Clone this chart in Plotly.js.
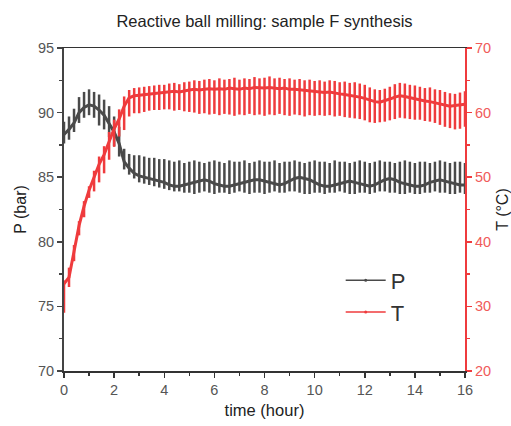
<!DOCTYPE html>
<html>
<head>
<meta charset="utf-8">
<script src="https://cdn.plot.ly/plotly-3.0.1.min.js"></script>
<style>html,body{margin:0;padding:0;background:#fff;}#chart{width:511px;height:426px;}</style>
</head>
<body>
<div id="chart"></div>
<script>
// time (hour), one entry per pressure/temperature cycle
const time = [0,0.2,0.4,0.6,0.8,1.0,1.2,1.4,1.6,1.8,2.0,2.2,2.4,2.6,2.8,3.0,3.2,3.4,3.6,3.8,4.0,
  4.2,4.4,4.6,4.8,5.0,5.2,5.4,5.6,5.8,6.0,6.2,6.4,6.6,6.8,7.0,7.2,7.4,7.6,7.8,8.0,
  8.2,8.4,8.6,8.8,9.0,9.2,9.4,9.6,9.8,10.0,10.2,10.4,10.6,10.8,11.0,11.2,11.4,11.6,11.8,12.0,
  12.2,12.4,12.6,12.8,13.0,13.2,13.4,13.6,13.8,14.0,14.2,14.4,14.6,14.8,15.0,15.2,15.4,15.6,15.8,16.0];

// Pressure P (bar): top of each swing, bottom of each swing, dense band level
const P_high = [89.3,89.7,90.3,91.2,91.6,91.8,91.6,91.4,91.0,90.5,89.7,88.9,87.2,86.8,86.7,86.7,86.6,86.5,86.5,86.4,86.4,
  86.3,86.2,86.3,86.1,86.2,86.3,86.2,86.1,86.2,86.3,
  86.2,86.1,86.3,86.2,86.2,86.3,86.1,86.2,86.3,86.2,
  86.2,86.3,86.1,86.2,86.2,86.3,86.2,86.1,86.2,86.3,
  86.2,86.2,86.1,86.3,86.2,86.2,86.1,86.2,86.3,86.2,
  86.1,86.2,86.3,86.2,86.2,86.1,86.2,86.3,86.2,86.1,
  86.2,86.2,86.1,86.2,86.3,86.2,86.1,86.2,86.2,86.1];
const P_low = [87.6,87.9,88.5,89.2,89.6,89.8,89.6,89.0,88.7,88.1,87.4,86.6,85.6,85.2,84.9,84.6,84.5,84.4,84.3,84.2,84.1,
  84.0,83.9,83.9,83.8,83.8,83.7,83.8,83.9,83.8,83.7,
  83.8,83.8,83.7,83.8,83.9,83.8,83.7,83.8,83.8,83.7,
  83.8,83.9,83.8,83.8,83.9,83.9,83.8,83.7,83.7,83.8,
  83.8,83.7,83.8,83.8,83.9,83.8,83.7,83.7,83.8,83.8,
  83.7,83.8,83.9,83.9,83.8,83.8,83.7,83.7,83.8,83.7,
  83.7,83.8,83.8,83.9,83.8,83.8,83.7,83.7,83.8,83.7];
const P_band = [88.3,88.7,89.2,90.0,90.4,90.6,90.5,90.2,89.8,89.2,88.5,87.6,86.2,85.7,85.3,85.1,85.0,84.9,84.8,84.7,84.6,
  84.4,84.3,84.3,84.4,84.5,
  84.6,84.7,84.8,84.7,84.5,84.4,84.3,84.3,84.4,
  84.5,84.6,84.7,84.8,84.8,84.7,84.6,84.5,84.4,
  84.5,84.7,84.9,85.0,84.9,84.8,84.6,84.4,84.3,
  84.3,84.4,84.5,84.6,84.7,84.6,84.5,84.4,84.3,
  84.4,84.6,84.8,84.9,84.8,84.6,84.5,84.4,84.3,
  84.3,84.4,84.6,84.7,84.8,84.7,84.6,84.5,84.4,84.4];

// Temperature T (°C): top of each swing, bottom of each swing, dense band level
const T_high = [34.0,36.0,39.5,43.2,46.3,48.6,51.0,53.2,54.8,57.0,58.9,60.5,62.5,63.5,63.8,63.9,64.0,64.1,64.2,64.3,64.3,
  64.5,64.6,64.4,64.7,64.8,65.0,64.9,65.1,65.2,65.0,
  65.3,65.1,65.2,65.4,65.1,65.3,65.2,65.5,65.3,65.4,
  65.6,65.3,65.4,65.2,65.3,65.1,65.2,65.0,65.1,64.9,
  65.0,64.8,65.0,64.9,64.7,64.8,64.6,64.7,64.5,64.3,
  63.9,63.6,63.5,63.7,64.0,64.4,64.6,64.5,64.3,64.2,
  64.0,63.8,63.9,63.6,63.5,63.2,63.0,62.9,63.1,63.3];
const T_low = [29.0,33.0,37.0,41.0,43.8,46.8,47.8,49.2,50.6,52.7,54.7,56.3,57.3,59.4,59.9,59.9,60.1,60.3,60.4,60.4,60.5,
  60.5,60.3,60.4,60.2,60.1,60.0,59.8,59.9,59.7,59.8,
  59.6,59.8,59.7,59.5,59.7,59.6,59.8,59.6,59.7,59.5,
  59.7,59.6,59.8,59.6,59.5,59.7,59.6,59.4,59.6,59.5,
  59.6,59.5,59.6,59.4,59.5,59.3,59.2,59.1,59.0,58.8,
  58.5,58.4,58.5,58.6,58.8,59.0,59.2,59.1,59.0,58.9,
  58.9,58.7,58.6,58.4,58.1,57.8,57.6,57.4,57.5,57.8];
const T_band = [33.5,34.5,38.5,42.5,45.5,48.0,50.0,52.0,53.5,55.5,57.5,59.0,61.0,62.3,62.6,62.7,62.8,62.9,63.0,63.0,63.1,
  63.2,63.3,63.2,63.4,63.5,63.6,63.5,63.6,63.7,63.6,
  63.7,63.6,63.8,63.7,63.6,63.8,63.7,63.9,63.8,63.8,
  63.9,63.8,63.7,63.8,63.6,63.6,63.5,63.4,63.4,63.3,
  63.2,63.1,63.2,63.0,62.9,62.8,62.7,62.6,62.4,62.2,
  61.9,61.7,61.6,61.8,62.1,62.4,62.6,62.5,62.3,62.2,
  62.0,61.8,61.7,61.5,61.4,61.2,61.0,61.1,61.2,61.3];

const xTicks = [0,2,4,6,8,10,12,14,16];
const pTicks = [70,75,80,85,90,95];
const tTicks = [20,30,40,50,60,70];

const P_COLOR = '#4a4a4a';
const T_COLOR = '#ef3b3d';
const FONT = 'Liberation Sans, Arial, sans-serif';

function swings(t, hi, lo) {
  const x = [], y = [];
  for (let i = 0; i < t.length; i++) {
    x.push(t[i], t[i], null);
    y.push(hi[i], lo[i], null);
  }
  return {x, y};
}
const pS = swings(time, P_high, P_low);
const tS = swings(time, T_high, T_low);

const traces = [
  {x: time, y: P_band, mode: 'lines', line: {color: P_COLOR, width: 3}, showlegend: false, hoverinfo: 'skip'},
  {x: pS.x, y: pS.y, mode: 'lines', line: {color: P_COLOR, width: 2.5}, showlegend: false, connectgaps: false},
  {x: time, y: T_band, yaxis: 'y2', mode: 'lines', line: {color: T_COLOR, width: 3}, showlegend: false, hoverinfo: 'skip'},
  {x: tS.x, y: tS.y, yaxis: 'y2', mode: 'lines', line: {color: T_COLOR, width: 2.5}, showlegend: false, connectgaps: false},
  {x: [null], y: [null], name: 'P', mode: 'lines+markers', line: {color: P_COLOR, width: 1.5}, marker: {color: P_COLOR, size: 3}},
  {x: [null], y: [null], name: 'T', yaxis: 'y2', mode: 'lines+markers', line: {color: T_COLOR, width: 1.5}, marker: {color: T_COLOR, size: 3}}
];

const layout = {
  width: 511, height: 426,
  margin: {l: 64, r: 46, t: 48, b: 55},
  paper_bgcolor: '#fff', plot_bgcolor: '#fff',
  font: {family: FONT, color: '#222'},
  title: {text: 'Reactive ball milling: sample F synthesis', font: {family: FONT, size: 16.5, color: '#222'},
          x: 0.5, xref: 'paper', y: 0.951, yanchor: 'middle'},
  xaxis: {
    range: [0, 16], tickvals: xTicks, ticktext: xTicks.map(String),
    showgrid: false, zeroline: false, showline: true, linecolor: '#333', linewidth: 1.5, mirror: true,
    ticks: 'outside', ticklen: 5, tickwidth: 1.5, tickcolor: '#333',
    minor: {dtick: 1, ticks: 'outside', ticklen: 3, tickwidth: 1.5, tickcolor: '#333', showgrid: false},
    tickfont: {family: FONT, size: 14.5, color: '#555'},
    title: {text: 'time (hour)', font: {family: FONT, size: 16.5, color: '#222'}, standoff: 7}
  },
  yaxis: {
    range: [70, 95], tickvals: pTicks, ticktext: pTicks.map(String),
    showgrid: false, zeroline: false, showline: true, linecolor: '#444', linewidth: 2,
    ticks: 'outside', ticklen: 5, tickwidth: 1.5, tickcolor: '#444',
    minor: {dtick: 2.5, ticks: 'outside', ticklen: 3, tickwidth: 1.5, tickcolor: '#444', showgrid: false},
    tickfont: {family: FONT, size: 14.5, color: '#555'},
    title: {text: 'P (bar)', font: {family: FONT, size: 16, color: '#222'}, standoff: 7}
  },
  yaxis2: {
    range: [20, 70], tickvals: tTicks, ticktext: tTicks.map(String),
    overlaying: 'y', side: 'right', anchor: 'x',
    showgrid: false, zeroline: false, showline: true, linecolor: T_COLOR, linewidth: 2,
    ticks: 'outside', ticklen: 5, tickwidth: 1.5, tickcolor: T_COLOR,
    minor: {dtick: 5, ticks: 'outside', ticklen: 3, tickwidth: 1.5, tickcolor: T_COLOR, showgrid: false},
    tickfont: {family: FONT, size: 14.5, color: '#f05a5a'},
    title: {text: 'T (°C)', font: {family: FONT, size: 16, color: '#222'}, standoff: 7}
  },
  legend: {x: 0.69, y: 0.345, xanchor: 'left', yanchor: 'top', bgcolor: 'rgba(0,0,0,0)',
           font: {family: FONT, size: 22, color: '#333'}, tracegroupgap: 0, itemwidth: 40},
  showlegend: true
};

Plotly.newPlot('chart', traces, layout, {displayModeBar: false, staticPlot: true});
</script>
</body>
</html>
